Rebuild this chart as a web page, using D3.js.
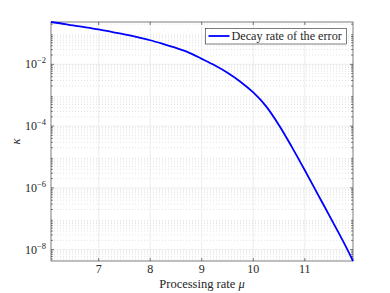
<!DOCTYPE html>
<html lang="en">
<head>
  <meta charset="UTF-8">
  <title>Decay rate</title>
  <script src="https://d3js.org/d3.v7.min.js"></script>
  <style>
    body { margin: 0; background: #fff; }
    svg { display: block; }
    text { font-family: "Liberation Serif", "DejaVu Serif", serif; fill: #262626; }
  </style>
</head>
<body>
<svg width="390" height="293"></svg>
<script>
  // processing rate mu and decay rate kappa
  const mu = [6.075, 6.25, 6.5, 6.75, 7.0, 7.25, 7.5, 7.75, 8.0, 8.25, 8.5, 8.75, 9.0,
    9.25, 9.5, 9.75, 10.0, 10.25, 10.5, 10.75, 11.0, 11.25, 11.5, 11.75, 11.935]
  const kappa = [0.235, 0.214, 0.182, 0.158, 0.135, 0.112, 0.0933, 0.0759, 0.0603, 0.0457,
    0.0339, 0.0240, 0.0151, 9.33e-3, 5.37e-3, 2.75e-3, 1.23e-3, 4.37e-4, 1.07e-4, 2.09e-5,
    3.72e-6, 6.3e-7, 1.07e-7, 1.78e-8, 4.3e-9]
  const xTicks = [7, 8, 9, 10, 11]
  const yTicks = [-8, -6, -4, -2]
  const legendLabel = "Decay rate of the error"

  const width = 390, height = 293
  const margin = { top: 22, right: 37, bottom: 32, left: 51 }
  const iw = width - margin.left - margin.right
  const ih = height - margin.top - margin.bottom

  const x = d3.scaleLinear().domain([6.075, 11.935]).range([0, iw])
  const y = d3.scaleLog().domain([4.3e-9, 0.235]).range([ih, 0])

  const svg = d3.select("svg")
  const g = svg.append("g").attr("transform", `translate(${margin.left},${margin.top})`)

  // minor grid (dotted)
  const minor = []
  for (let e = -9; e <= 0; e++) {
    for (let m = 2; m <= 9; m++) {
      const v = m * Math.pow(10, e)
      if (v > 4.3e-9 && v < 0.235) minor.push(v)
    }
  }
  g.append("g").selectAll("line").data(minor).join("line")
    .attr("x1", 0).attr("x2", iw)
    .attr("y1", d => y(d)).attr("y2", d => y(d))
    .attr("stroke", "#d2d2d2").attr("stroke-width", 0.6)
    .attr("stroke-dasharray", "1,2")

  // major grid
  g.append("g").selectAll("line").data(xTicks).join("line")
    .attr("x1", d => x(d)).attr("x2", d => x(d))
    .attr("y1", 0).attr("y2", ih)
    .attr("stroke", "#e8e8e8").attr("stroke-width", 0.8)
  g.append("g").selectAll("line").data(yTicks).join("line")
    .attr("x1", 0).attr("x2", iw)
    .attr("y1", d => y(Math.pow(10, d))).attr("y2", d => y(Math.pow(10, d)))
    .attr("stroke", "#e8e8e8").attr("stroke-width", 0.8)

  // ticks on all four sides
  const tk = g.append("g").attr("stroke", "#262626").attr("stroke-width", 0.6)
  xTicks.forEach(t => {
    tk.append("line").attr("x1", x(t)).attr("x2", x(t)).attr("y1", ih).attr("y2", ih - 3)
    tk.append("line").attr("x1", x(t)).attr("x2", x(t)).attr("y1", 0).attr("y2", 3)
  })
  yTicks.forEach(t => {
    const yy = y(Math.pow(10, t))
    tk.append("line").attr("x1", 0).attr("x2", 3).attr("y1", yy).attr("y2", yy)
    tk.append("line").attr("x1", iw).attr("x2", iw - 3).attr("y1", yy).attr("y2", yy)
  })
  minor.forEach(v => {
    tk.append("line").attr("x1", 0).attr("x2", 1.8).attr("y1", y(v)).attr("y2", y(v))
    tk.append("line").attr("x1", iw).attr("x2", iw - 1.8).attr("y1", y(v)).attr("y2", y(v))
  })

  // box
  g.append("rect").attr("width", iw).attr("height", ih)
    .attr("fill", "none").attr("stroke", "#262626").attr("stroke-width", 0.6)

  // tick labels
  g.append("g").selectAll("text").data(xTicks).join("text")
    .attr("x", d => x(d)).attr("y", ih + 12)
    .attr("text-anchor", "middle").attr("font-size", 12)
    .text(d => d)

  const yl = g.append("g").selectAll("text").data(yTicks).join("text")
    .attr("x", -5).attr("y", d => y(Math.pow(10, d)) + 4)
    .attr("text-anchor", "end").attr("font-size", 12)
  yl.append("tspan").text("10")
  yl.append("tspan").attr("dy", -5).attr("font-size", 8.5).text(d => "\u2212" + (-d))

  // curve
  const line = d3.line()
    .x(i => x(mu[i]))
    .y(i => y(kappa[i]))
    .curve(d3.curveCatmullRom.alpha(0.5))
  g.append("path").datum(d3.range(mu.length))
    .attr("d", line)
    .attr("fill", "none").attr("stroke", "#0000ff").attr("stroke-width", 1.8)

  // legend
  const lg = g.append("g").attr("transform", `translate(${205.5 - margin.left},${28.5 - margin.top})`)
  lg.append("rect").attr("width", 141).attr("height", 15.5)
    .attr("fill", "#fff").attr("stroke", "#262626").attr("stroke-width", 0.6)
  lg.append("line").attr("x1", 3).attr("x2", 24).attr("y1", 7.5).attr("y2", 7.5)
    .attr("stroke", "#0000ff").attr("stroke-width", 1.8)
  lg.append("text").attr("x", 26).attr("y", 11.6).attr("font-size", 12.2).text(legendLabel)

  // axis labels
  const xl = svg.append("text")
    .attr("x", margin.left + iw / 2).attr("y", 288)
    .attr("text-anchor", "middle").attr("font-size", 12.5)
  xl.append("tspan").text("Processing rate ")
  xl.append("tspan").attr("font-style", "italic").text("\u03bc")
  svg.append("text")
    .attr("transform", `translate(20,${margin.top + ih / 2}) rotate(-90)`)
    .attr("text-anchor", "middle").attr("font-size", 12.5).attr("font-style", "italic")
    .text("\u03ba")
</script>
</body>
</html>
